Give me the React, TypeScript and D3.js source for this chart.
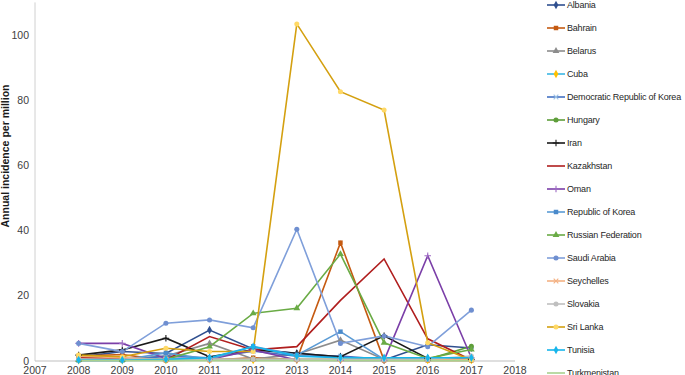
import React, { useRef, useEffect } from 'react';
import * as d3 from 'd3';

const years = [2008, 2009, 2010, 2011, 2012, 2013, 2014, 2015, 2016, 2017];
const xTicks = [2007, 2008, 2009, 2010, 2011, 2012, 2013, 2014, 2015, 2016, 2017, 2018];
const yTicks = [0, 20, 40, 60, 80, 100];

const albania = [1.2, 2.9, 2.3, 9.5, 3.7, 2.4, 1.3, 0.3, 5.0, 4.0];
const bahrain = [1.5, 2.0, 0.2, 0.3, 1.0, 0.5, 36.3, 0.2, 0.2, 0.2];
const belarus = [0.5, 0.5, 1.5, 5.4, 0.6, 2.1, 6.4, 0.5, 0.5, 0.5];
const cuba = [0.2, 0.2, 0.3, 0.3, 0.3, 0.3, 0.3, 0.3, 0.3, 0.3];
const dprk = [0.2, 0.2, 1.5, 1.0, 3.0, 1.5, 1.5, 0.5, 0.5, 0.5];
const hungary = [0.4, 0.4, 0.5, 0.5, 0.5, 0.5, 0.5, 0.5, 0.5, 4.5];
const iran = [1.8, 3.4, 7.0, 1.3, 3.4, 2.4, 1.3, 7.7, 0.8, 0.5];
const kazakhstan = [1.1, 0.8, 0.3, 7.5, 3.4, 4.4, 18.6, 31.3, 6.8, 0.3];
const oman = [5.4, 5.4, 0.8, 0.5, 3.4, 0.3, 0.2, 0.2, 32.3, 1.0];
const korea = [0.3, 0.3, 2.5, 0.5, 4.5, 1.8, 9.0, 0.5, 0.5, 0.5];
const russia = [0.3, 0.3, 0.5, 4.4, 14.6, 16.2, 32.8, 5.6, 0.8, 3.5];
const saudi = [5.4, 2.9, 11.6, 12.6, 10.2, 40.4, 5.4, 7.7, 4.4, 15.6];
const seychelles = [1.5, 1.0, 0.5, 0.5, 0.5, 0.5, 0.5, 0.5, 0.5, 0.5];
const slovakia = [0.5, 0.5, 0.5, 0.5, 0.5, 0.5, 0.5, 0.5, 0.5, 1.5];
const sriLanka = [1.8, 1.3, 3.9, 2.9, 2.9, 103.4, 82.6, 77.0, 5.6, 0.3];
const tunisia = [0.3, 0.3, 0.5, 1.0, 4.4, 1.5, 1.0, 1.0, 1.0, 1.0];
const turkmenistan = [0.1, 0.1, 0.1, 0.1, 0.1, 0.1, 0.1, 0.1, 0.1, 0.1];

type Series = { name: string; values: number[]; line: string; fill: string; marker: string };

const series: Series[] = [
  { name: 'Albania', values: albania, line: '#2F4F8F', fill: '#2F4F8F', marker: 'diamond' },
  { name: 'Bahrain', values: bahrain, line: '#C55A11', fill: '#C55A11', marker: 'square' },
  { name: 'Belarus', values: belarus, line: '#8C8C8C', fill: '#8C8C8C', marker: 'triangle' },
  { name: 'Cuba', values: cuba, line: '#3DB7E4', fill: '#FFC000', marker: 'diamond' },
  { name: 'Democratic Republic of Korea', values: dprk, line: '#4472C4', fill: '#9DC3E6', marker: 'x' },
  { name: 'Hungary', values: hungary, line: '#5E9E3A', fill: '#5E9E3A', marker: 'circle' },
  { name: 'Iran', values: iran, line: '#1A1A1A', fill: '#1A1A1A', marker: 'plus' },
  { name: 'Kazakhstan', values: kazakhstan, line: '#B01E1E', fill: '#B01E1E', marker: 'none' },
  { name: 'Oman', values: oman, line: '#7B3FA8', fill: '#9E6BC4', marker: 'plus' },
  { name: 'Republic of Korea', values: korea, line: '#5B9BD5', fill: '#4A8ACB', marker: 'square' },
  { name: 'Russian Federation', values: russia, line: '#6AAB45', fill: '#6AAB45', marker: 'triangle' },
  { name: 'Saudi Arabia', values: saudi, line: '#7F9FDA', fill: '#6F8FD0', marker: 'circle' },
  { name: 'Seychelles', values: seychelles, line: '#F4B183', fill: '#F4B183', marker: 'x' },
  { name: 'Slovakia', values: slovakia, line: '#BFBFBF', fill: '#BFBFBF', marker: 'circle' },
  { name: 'Sri Lanka', values: sriLanka, line: '#D4A010', fill: '#FFD966', marker: 'circle' },
  { name: 'Tunisia', values: tunisia, line: '#17B5EB', fill: '#17B5EB', marker: 'diamond' },
  { name: 'Turkmenistan', values: turkmenistan, line: '#A9D18E', fill: '#A9D18E', marker: 'none' }
];

const symbolFor = (m: string) => {
  if (m === 'diamond') return d3.symbolDiamond;
  if (m === 'square') return d3.symbolSquare;
  if (m === 'triangle') return d3.symbolTriangle;
  if (m === 'x') return d3.symbolX;
  if (m === 'plus') return d3.symbolPlus;
  return d3.symbolCircle;
};

const drawMarker = (g: any, s: Series, cx: number, cy: number) => {
  if (s.marker === 'none') return;
  const thin = s.marker === 'x' || s.marker === 'plus';
  const size = s.marker === 'square' ? 20 : thin ? 16 : 20;
  g.append('path')
    .attr('d', d3.symbol().type(symbolFor(s.marker)).size(size)())
    .attr('transform', `translate(${cx},${cy})`)
    .attr('fill', thin ? 'none' : s.fill)
    .attr('stroke', thin ? s.fill : 'none')
    .attr('stroke-width', 1.1);
};

const App: React.FC = () => {
  const ref = useRef<SVGSVGElement>(null);

  useEffect(() => {
    const svg = d3.select(ref.current);
    svg.selectAll('*').remove();

    const x = d3.scaleLinear().domain([2007, 2018]).range([35, 515]);
    const y = d3.scaleLinear().domain([0, 110]).range([361, 2.4]);

    // axes
    svg.append('line')
      .attr('x1', x(2007)).attr('x2', x(2007))
      .attr('y1', y(110)).attr('y2', y(0))
      .attr('stroke', '#d0d0d0');
    svg.append('line')
      .attr('x1', x(2007)).attr('x2', x(2018))
      .attr('y1', y(0)).attr('y2', y(0))
      .attr('stroke', '#bfbfbf');

    svg.selectAll('.ytick').data(yTicks).enter().append('text')
      .attr('x', 29)
      .attr('y', d => y(d))
      .attr('dy', '0.35em')
      .attr('text-anchor', 'end')
      .attr('font-size', 10.5)
      .attr('fill', '#404040')
      .text(d => d);

    svg.selectAll('.xtick').data(xTicks).enter().append('text')
      .attr('x', d => x(d))
      .attr('y', 374)
      .attr('text-anchor', 'middle')
      .attr('font-size', 10.5)
      .attr('fill', '#404040')
      .text(d => d);

    svg.append('text')
      .attr('transform', `translate(9,156) rotate(-90)`)
      .attr('text-anchor', 'middle')
      .attr('font-size', 10.5)
      .attr('font-weight', 'bold')
      .attr('fill', '#1a1a1a')
      .text('Annual incidence per million');

    const line = d3.line<number>()
      .x((_, i) => x(years[i]))
      .y(d => y(d));

    series.forEach(s => {
      svg.append('path')
        .datum(s.values)
        .attr('fill', 'none')
        .attr('stroke', s.line)
        .attr('stroke-width', 1.6)
        .attr('d', line);
    });
    series.forEach(s => {
      const g = svg.append('g');
      s.values.forEach((v, i) => drawMarker(g, s, x(years[i]), y(v)));
    });

    // legend
    const legend = svg.append('g');
    series.forEach((s, i) => {
      const ly = 5 + i * 23;
      legend.append('line')
        .attr('x1', 547).attr('x2', 565)
        .attr('y1', ly).attr('y2', ly)
        .attr('stroke', s.line)
        .attr('stroke-width', 1.6);
      drawMarker(legend, s, 556, ly);
      legend.append('text')
        .attr('x', 567)
        .attr('y', ly)
        .attr('dy', '0.35em')
        .attr('font-size', 9)
        .attr('letter-spacing', -0.2)
        .attr('fill', '#262626')
        .text(s.name);
    });
  }, []);

  return (
    <svg
      ref={ref}
      width={685}
      height={375}
      style={{ position: 'absolute', left: 0, top: 0, fontFamily: 'Liberation Sans, Arial, sans-serif', background: '#fff' }}
    />
  );
};

export default App;
